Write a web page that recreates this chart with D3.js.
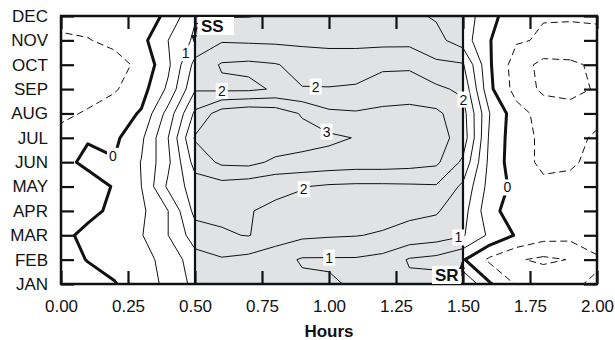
<!DOCTYPE html>
<html>
<head>
<meta charset="utf-8">
<script src="https://cdn.jsdelivr.net/npm/d3@7"></script>
<style>
  body { margin: 0; background: #fff; }
  svg { font-family: "Liberation Sans", Arial, Helvetica, sans-serif; }
</style>
</head>
<body>
<svg id="chart" width="615" height="340"></svg>
<script>
'use strict'

// axes
const months = ['JAN', 'FEB', 'MAR', 'APR', 'MAY', 'JUN', 'JUL', 'AUG', 'SEP', 'OCT', 'NOV', 'DEC']
const hours = [0, 0.1, 0.2, 0.3, 0.4, 0.5, 0.6, 0.7, 0.8, 0.9, 1.0,
  1.1, 1.2, 1.3, 1.4, 1.5, 1.6, 1.7, 1.8, 1.9, 2.0]
const hourTicks = [0, 0.25, 0.5, 0.75, 1, 1.25, 1.5, 1.75, 2]
const levels = [-1, -0.5, 0, 0.5, 1, 1.5, 2, 2.5, 3]
const sunset = 0.5
const sunrise = 1.5

// field values, one row per month, one value per hour column
const janRow = [-0.35, -0.2, -0.03, 0.3, 0.6, 1.15, 1.25, 1.25, 1.2, 1.1, 1.05, 0.95, 0.7, 0.6, 0.7, 1.0, 0.05, -0.55, -0.6, -0.55, -0.45]
const febRow = [-0.2, 0.02, 0.2, 0.35, 0.65, 1.3, 1.45, 1.35, 1.2, 0.95, 0.95, 0.95, 0.85, 0.45, 0.35, 0.05, -0.6, -0.95, -1.1, -0.98, -0.55]
const marRow = [-0.15, 0.15, 0.3, 0.47, 1.0, 1.75, 1.95, 2.02, 1.75, 1.6, 1.55, 1.52, 1.45, 1.35, 1.25, 1.05, 0.4, -0.05, -0.3, -0.35, -0.3]
const aprRow = [-0.4, -0.15, 0.12, 0.4, 1.0, 2.15, 2.1, 2.02, 1.92, 1.88, 1.85, 1.85, 1.7, 1.6, 1.55, 1.2, 0.15, -0.25, -0.3, -0.3, -0.25]
const mayRow = [-0.45, -0.3, 0.05, 0.5, 1.6, 2.25, 2.3, 2.2, 2.1, 2.02, 1.93, 1.9, 1.9, 1.92, 1.95, 1.4, 0.3, -0.15, -0.4, -0.4, -0.3]
const junRow = [-0.2, 0.15, 0.03, 0.52, 1.4, 2.7, 3.1, 3.15, 2.9, 2.85, 2.8, 2.75, 2.75, 2.7, 2.6, 1.9, 0.35, -0.3, -0.6, -0.55, -0.4]
const julRow = [-0.35, -0.05, -0.1, 0.4, 1.5, 3.05, 3.4, 3.45, 3.35, 3.2, 3.1, 2.98, 2.9, 2.85, 2.7, 2.3, 0.4, -0.3, -0.6, -0.6, -0.45]
const augRow = [-0.6, -0.45, -0.25, 0.05, 1.2, 2.6, 3.25, 3.4, 3.3, 2.95, 2.6, 2.55, 2.6, 2.65, 2.6, 2.2, 0.5, -0.3, -0.7, -0.8, -0.6]
const sepRow = [-0.75, -0.7, -0.55, -0.2, 0.6, 1.95, 1.9, 1.9, 2.05, 2.02, 2.02, 2.05, 2.25, 2.25, 2.1, 1.9, 0.1, -0.7, -1.1, -1.15, -0.95]
const octRow = [-0.8, -0.75, -0.65, -0.4, 0.4, 1.66, 2.05, 2.1, 2.03, 1.85, 1.8, 1.8, 1.9, 1.92, 1.6, 1.55, 0.05, -0.75, -1.15, -1.1, -0.9]
const novRow = [-0.55, -0.52, -0.4, -0.15, 0.5, 1.1, 1.45, 1.42, 1.4, 1.38, 1.35, 1.35, 1.35, 1.35, 1.15, 0.75, 0.02, -0.45, -0.55, -0.6, -0.6]
const decRow = [-0.4, -0.35, -0.3, -0.25, 0.1, 0.95, 0.97, 0.98, 1.05, 1.1, 1.15, 1.15, 1.15, 1.1, 0.95, 0.8, 0.15, -0.3, -0.48, -0.47, -0.45]
const grid = [janRow, febRow, marRow, aprRow, mayRow, junRow, julRow, augRow, sepRow, octRow, novRow, decRow]

// where the inline contour labels sit (hour, month index)
const contourLabels = [
  {level: 1, hour: 0.46, month: 9.5},
  {level: 2, hour: 0.6, month: 7.76},
  {level: 2, hour: 0.95, month: 7.96},
  {level: 3, hour: 0.99, month: 6.24},
  {level: 2, hour: 0.9, month: 3.98},
  {level: 1, hour: 1.0, month: 1.1},
  {level: 0, hour: 0.19, month: 5.17},
  {level: 0, hour: 1.66, month: 3.98},
  {level: 2, hour: 1.49, month: 7.55},
  {level: 1, hour: 1.48, month: 2.1}
]

const plot = {left: 61, right: 597, top: 16, bottom: 284}
const svg = d3.select('#chart')

const x = d3.scaleLinear().domain([0, 2]).range([plot.left, plot.right])
const y = d3.scaleLinear().domain([0, months.length - 1]).range([plot.bottom, plot.top])

// d3.contours puts value i at i + 0.5
const gx = d3.scaleLinear()
  .domain([0.5, hours.length - 0.5])
  .range([x(hours[0]), x(hours[hours.length - 1])])
const gy = d3.scaleLinear()
  .domain([0.5, months.length - 0.5])
  .range([y(0), y(months.length - 1)])
const path = d3.geoPath(d3.geoTransform({
  point(px, py) { this.stream.point(gx(px), gy(py)) }
}))

svg.append('defs').append('clipPath')
  .attr('id', 'plotClip')
  .append('rect')
  .attr('x', plot.left)
  .attr('y', plot.top)
  .attr('width', plot.right - plot.left)
  .attr('height', plot.bottom - plot.top)

// night shading between SS and SR
svg.append('rect')
  .attr('x', x(sunset))
  .attr('y', plot.top)
  .attr('width', x(sunrise) - x(sunset))
  .attr('height', plot.bottom - plot.top)
  .attr('fill', '#e1e2e4')

const contours = d3.contours()
  .size([hours.length, months.length])
  .thresholds(levels)(grid.flat())

const pathNodes = {}
svg.append('g')
  .attr('clip-path', 'url(#plotClip)')
  .selectAll('path')
  .data(contours)
  .join('path')
  .attr('d', path)
  .attr('fill', 'none')
  .attr('stroke', '#111')
  .attr('stroke-linejoin', 'round')
  .attr('stroke-width', d => d.value === 0 ? 3 : 1)
  .attr('stroke-dasharray', d => d.value < 0 ? '7,4' : null)
  .each(function (d) { pathNodes[d.value] = this })

// SS / SR boundaries
svg.selectAll('line.term')
  .data([sunset, sunrise])
  .join('line')
  .attr('class', 'term')
  .attr('x1', d => x(d))
  .attr('x2', d => x(d))
  .attr('y1', plot.top)
  .attr('y2', plot.bottom)
  .attr('stroke', '#111')
  .attr('stroke-width', 2.2)

// axes, ticks pointing inward
const tickLen = 13
const axisStyle = g => {
  g.select('.domain').remove()
  g.selectAll('.tick line').attr('stroke', '#111').attr('stroke-width', 2.2)
  g.selectAll('.tick text').attr('fill', '#111').attr('font-size', 17)
}

svg.append('g')
  .attr('transform', `translate(${plot.left},0)`)
  .call(d3.axisLeft(y).tickValues(d3.range(months.length))
    .tickFormat(i => months[i]).tickSize(-tickLen).tickPadding(13))
  .call(axisStyle)

svg.append('g')
  .attr('transform', `translate(${plot.right},0)`)
  .call(d3.axisRight(y).tickValues(d3.range(months.length))
    .tickFormat('').tickSize(-tickLen))
  .call(axisStyle)

svg.append('g')
  .attr('transform', `translate(0,${plot.bottom})`)
  .call(d3.axisBottom(x).tickValues(hourTicks)
    .tickFormat(d3.format('.2f')).tickSize(-tickLen).tickPadding(16))
  .call(axisStyle)

svg.append('g')
  .attr('transform', `translate(0,${plot.top})`)
  .call(d3.axisTop(x).tickValues(hourTicks)
    .tickFormat('').tickSize(-tickLen))
  .call(axisStyle)

svg.append('rect')
  .attr('x', plot.left)
  .attr('y', plot.top)
  .attr('width', plot.right - plot.left)
  .attr('height', plot.bottom - plot.top)
  .attr('fill', 'none')
  .attr('stroke', '#111')
  .attr('stroke-width', 2.5)

svg.append('text')
  .attr('x', x(1))
  .attr('y', 337)
  .attr('text-anchor', 'middle')
  .attr('font-size', 17)
  .attr('font-weight', 'bold')
  .attr('fill', '#111')
  .text('Hours')

// inline contour labels, snapped onto their contour
const labelG = svg.append('g')
contourLabels.forEach(lab => {
  const node = pathNodes[lab.level]
  if (!node) return
  const tx = x(lab.hour)
  const ty = y(lab.month)
  const len = node.getTotalLength()
  let best = null
  for (let s = 0; s < len; s += 0.5) {
    const p = node.getPointAtLength(s)
    if (p.x < plot.left || p.x > plot.right || p.y < plot.top || p.y > plot.bottom) continue
    const dist = (p.x - tx) ** 2 + (p.y - ty) ** 2
    if (!best || dist < best.dist) best = {x: p.x, y: p.y, dist}
  }
  if (!best) return
  const g = labelG.append('g').attr('transform', `translate(${best.x},${best.y})`)
  g.append('rect')
    .attr('x', -6)
    .attr('y', -8)
    .attr('width', 12)
    .attr('height', 16)
    .attr('fill', '#fff')
  g.append('text')
    .attr('text-anchor', 'middle')
    .attr('dy', '0.36em')
    .attr('font-size', 14)
    .attr('fill', '#111')
    .text(d3.format('d')(lab.level))
})

// SS / SR markers
const marker = (label, bx, by, bw, ax1, ay1, ax2, ay2) => {
  svg.append('rect')
    .attr('x', bx)
    .attr('y', by)
    .attr('width', bw)
    .attr('height', 18)
    .attr('fill', '#fff')
  svg.append('text')
    .attr('x', bx + 3)
    .attr('y', by + 15)
    .attr('font-size', 17)
    .attr('font-weight', 'bold')
    .attr('fill', '#111')
    .text(label)
  svg.append('line')
    .attr('x1', ax1).attr('y1', ay1)
    .attr('x2', ax2).attr('y2', ay2)
    .attr('stroke', '#111')
    .attr('stroke-width', 1.2)
  const dir = ay2 > ay1 ? 1 : -1
  svg.append('path')
    .attr('d', `M${ax2},${ay2} L${ax2 - 3},${ay2 - dir * 7} L${ax2 + 3},${ay2 - dir * 7} Z`)
    .attr('fill', '#111')
}
marker('SS', x(sunset) + 3, 17, 36, x(sunset) + 2, 27, x(sunset) - 1, 42)
marker('SR', x(sunrise) - 31, 266, 29, x(sunrise) - 1, 276, x(sunrise) - 1, 262)
</script>
</body>
</html>
